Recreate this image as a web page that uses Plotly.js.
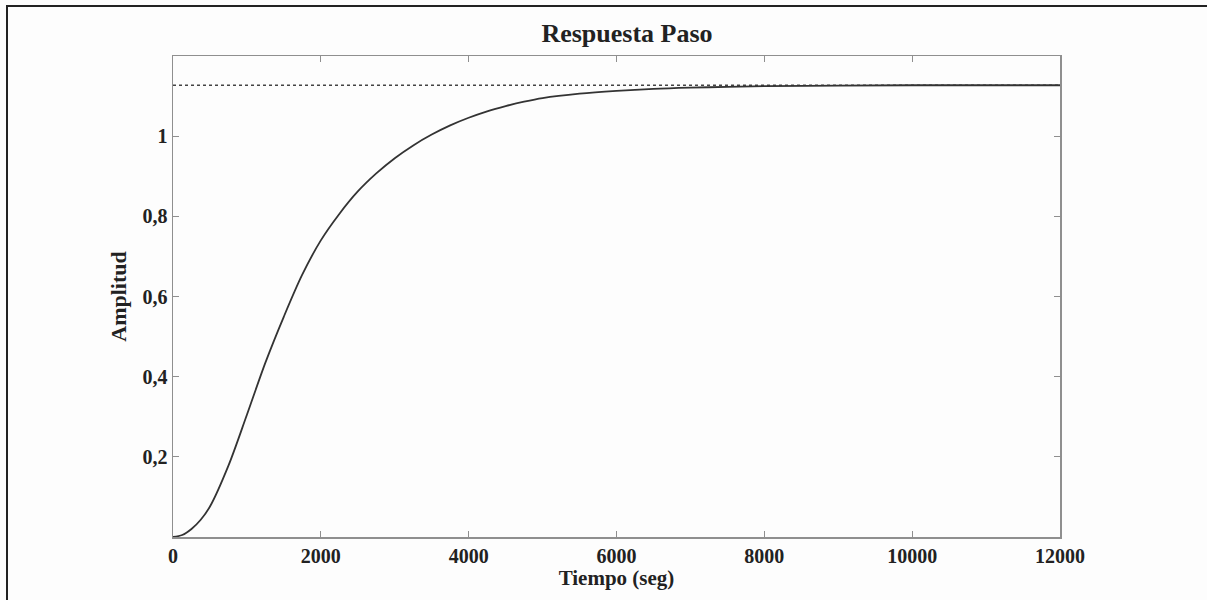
<!DOCTYPE html>
<html>
<head>
<meta charset="utf-8">
<script src="https://cdn.plot.ly/plotly-3.0.1.min.js"></script>
<style>
  html, body { margin: 0; padding: 0; background: #fdfdfd; overflow: hidden; }
  #chart { width: 1207px; height: 600px; }
</style>
</head>
<body>
<div id="chart"></div>
<script>
// Step response
const tiempo = [0, 125, 250, 375, 500, 750, 1000, 1250, 1500, 1750, 2000, 2250, 2500, 2750, 3000, 3250, 3500,
                3750, 4000, 4250, 4500, 4750, 5000, 5500, 6000, 6500, 7000, 7500, 8000, 9000, 10000, 12000];
const amplitud = [0, 0.005, 0.02, 0.043, 0.076, 0.178, 0.305, 0.435, 0.55, 0.655, 0.74, 0.806, 0.862, 0.907, 0.945, 0.977, 1.004,
                  1.027, 1.046, 1.062, 1.075, 1.086, 1.095, 1.106, 1.113, 1.118, 1.121, 1.123, 1.125, 1.126, 1.127, 1.127];
// Steady-state value (dotted line)
const finalX = [0, 12000];
const finalY = [1.127, 1.127];

const xTickVals = [0, 2000, 4000, 6000, 8000, 10000, 12000];
const xTickText = ['0', '2000', '4000', '6000', '8000', '10000', '12000'];
const yTickVals = [0.2, 0.4, 0.6, 0.8, 1];
const yTickText = ['0,2', '0,4', '0,6', '0,8', '1'];

const serif = 'Liberation Serif, Times New Roman, serif';

const traces = [
  { x: finalX, y: finalY, mode: 'lines', type: 'scatter',
    line: { color: '#444', width: 1.5, dash: 'dot' }, hoverinfo: 'skip' },
  { x: tiempo, y: amplitud, mode: 'lines', type: 'scatter',
    line: { color: '#333', width: 1.8, shape: 'spline', smoothing: 0.9 } }
];

const axisCommon = {
  showgrid: false, zeroline: false, showline: true, linecolor: '#8f8f8f', linewidth: 1.5,
  mirror: 'ticks', ticks: 'inside', ticklen: 6, tickwidth: 1.2, tickcolor: '#8f8f8f',
  tickfont: { family: serif, size: 20, color: '#222', weight: 'bold' }
};

// Outer frame (left and top edges of the figure box), in paper units relative to the plot area
const frameColor = '#222';
const shapes = [
  { type: 'line', xref: 'paper', yref: 'paper', x0: -166 / 887, x1: -166 / 887, y0: 531 / 481, y1: -70 / 481,
    line: { color: frameColor, width: 2 } },
  { type: 'line', xref: 'paper', yref: 'paper', x0: -167 / 887, x1: 1040 / 887, y0: 531 / 481, y1: 531 / 481,
    line: { color: frameColor, width: 2 } }
];

const layout = {
  width: 1207, height: 600,
  margin: { l: 173, r: 147, t: 56, b: 63 },
  paper_bgcolor: '#fdfdfd', plot_bgcolor: '#fdfdfd',
  showlegend: false,
  shapes: shapes,
  title: { text: '<b>Respuesta Paso</b>', font: { family: serif, size: 26, color: '#222' },
           x: 627 / 1207, xref: 'container', xanchor: 'center', y: 1 - 33 / 600, yanchor: 'middle' },
  xaxis: Object.assign({}, axisCommon, {
    range: [0, 12000], tickvals: xTickVals, ticktext: xTickText,
    title: { text: '<b>Tiempo (seg)</b>', font: { family: serif, size: 21, color: '#222' }, standoff: 3 }
  }),
  yaxis: Object.assign({}, axisCommon, {
    range: [0, 1.2], tickvals: yTickVals, ticktext: yTickText,
    title: { text: '<b>Amplitud</b>', font: { family: serif, size: 22, color: '#222' }, standoff: 10 }
  })
};

Plotly.newPlot('chart', traces, layout, { displayModeBar: false, staticPlot: true });
</script>
</body>
</html>
